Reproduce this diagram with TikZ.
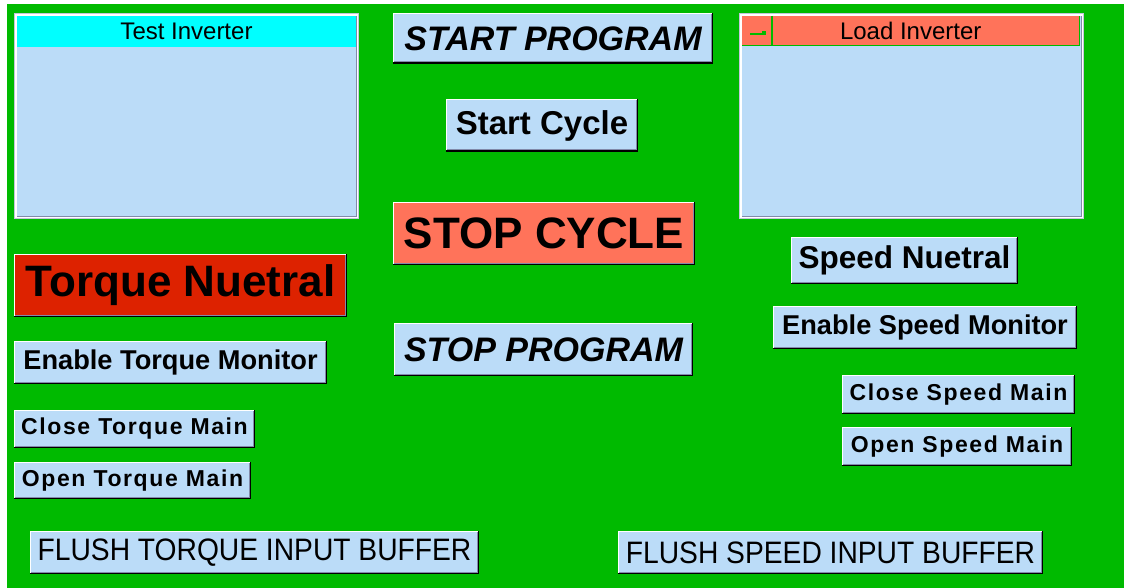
\documentclass[tikz,border=0pt]{standalone}
\usepackage{fontspec}
\setmainfont{Liberation Sans}
\newfontfamily\spacedsans[LetterSpace=7]{Liberation Sans}
\newfontfamily\narrowsans[FakeStretch=0.91]{Liberation Sans}

\definecolor{hmigreen}{RGB}{0,186,0}
\definecolor{panelblue}{RGB}{187,220,248}
\definecolor{salmon}{RGB}{255,115,90}
\definecolor{alarmred}{RGB}{221,34,0}
\definecolor{titlecyan}{RGB}{0,255,255}
\definecolor{bevelgray}{RGB}{130,138,170}
\definecolor{framegray}{RGB}{196,198,220}

\tikzset{
  uibtn/.style={inner sep=0pt, fill=panelblue, text=black},
  fbi/.style={font=\fontsize{34}{34}\selectfont\bfseries\itshape},
  fhuge/.style={font=\fontsize{44}{44}\selectfont\bfseries},
  fbig/.style={font=\fontsize{33}{33}\selectfont\bfseries},
  fmid/.style={font=\fontsize{31.5}{31.5}\selectfont\bfseries},
  fmon/.style={font=\fontsize{27.2}{27.2}\selectfont\bfseries},
  fmain/.style={font=\spacedsans\fontsize{23}{23}\selectfont\bfseries},
  fflush/.style={font=\narrowsans\fontsize{31}{31}\selectfont},
  ftitle/.style={font=\fontsize{24}{24}\selectfont},
  hilite/.style={white, line width=1.2pt},
  shade/.style={bevelgray, line width=1pt},
  shadow/.style={black, line width=1.5pt},
}

% rectangle node spanning two corners: name, x1, y1, x2, y2, options, label
\newcommand\spanbox[7]{%
  \pgfmathsetmacro\sbw{#4-#2}%
  \pgfmathsetmacro\sbh{#5-#3}%
  \pgfmathsetmacro\sbx{(#2+#4)/2}%
  \pgfmathsetmacro\sby{(#3+#5)/2}%
  \node[inner sep=0pt, outer sep=0pt, #6, minimum width=\sbw pt, minimum height=\sbh pt, anchor=center] (#1) at (\sbx,\sby) {#7};%
}

% raised push button: name, x1, y1, x2, y2, options, label
\newcommand\hmibutton[7]{%
  \spanbox{#1}{#2}{#3}{#4}{#5}{uibtn, #6}{#7}
  \draw[hilite] ([xshift=0.6pt]#1.south west) -- ([xshift=0.6pt,yshift=-0.6pt]#1.north west) -- ([yshift=-0.6pt]#1.north east);
  \draw[shade] ([xshift=1pt,yshift=2pt]#1.south west) -- ([xshift=-2pt,yshift=2pt]#1.south east) -- ([xshift=-2pt,yshift=-1pt]#1.north east);
  \draw[shadow] ([yshift=0.75pt]#1.south west) -- ([xshift=-0.75pt,yshift=0.75pt]#1.south east) -- ([xshift=-0.75pt]#1.north east);
}

\begin{document}
\begin{tikzpicture}[x=1pt, y=-1pt]
\useasboundingbox (0,0) rectangle (1124,588);
\fill[white] (0,0) rectangle (1124,588);
\fill[hmigreen] (7,4) rectangle (1124,588);

% Test Inverter panel
\fill[framegray] (14,13) rectangle (359,219);
\fill[white] (15,14) rectangle (358,218);
\fill[bevelgray] (17,16) rectangle (357,217);
\spanbox{testbody}{17}{16}{356}{216}{fill=panelblue}{}
\spanbox{testtitle}{17}{16}{356}{47}{fill=titlecyan, ftitle}{Test Inverter}

% Load Inverter panel
\fill[framegray] (739,13) rectangle (1084,219);
\fill[white] (740,14) rectangle (1083,218);
\fill[bevelgray] (742,16) rectangle (1082,217);
\spanbox{loadbody}{742}{16}{1081}{216}{fill=panelblue}{}
\spanbox{loadtitle}{742}{16}{1079.5}{45.5}{fill=salmon, ftitle}{Load Inverter}
\draw[hmigreen, line width=1.5pt] (loadtitle.south west) -- (loadtitle.south east) -- (loadtitle.north east);
\draw[hmigreen, line width=1.5pt] ([xshift=30pt]loadtitle.north west) -- ([xshift=30pt]loadtitle.south west);
\fill[hmigreen] (750,32.7) rectangle (766,35);
\fill[hmigreen] (761.5,30.7) rectangle (766,35);

% centre column
\hmibutton{startprog}{393}{13}{713}{64}{fbi}{START PROGRAM}
\hmibutton{startcycle}{446}{99}{638}{152}{fbig}{Start Cycle}
\hmibutton{stopcycle}{393}{202}{695}{265}{fhuge, fill=salmon}{STOP CYCLE}
\hmibutton{stopprog}{394}{323}{693}{376}{fbi}{STOP PROGRAM}

% torque side
\hmibutton{torqneutral}{14}{254}{347}{317}{fhuge, fill=alarmred}{Torque Nuetral}
\hmibutton{torqmon}{14}{341}{327}{384}{fmon}{Enable Torque Monitor}
\hmibutton{torqclose}{14}{410}{255}{448}{fmain}{Close Torque Main}
\hmibutton{torqopen}{14}{462}{251}{499}{fmain}{Open Torque Main}

% speed side
\hmibutton{speedneutral}{791}{237}{1018}{284}{fmid}{Speed Nuetral}
\hmibutton{speedmon}{773}{306}{1077}{349}{fmon}{Enable Speed Monitor}
\hmibutton{speedclose}{842}{375}{1075}{414}{fmain}{Close Speed Main}
\hmibutton{speedopen}{842}{427}{1072}{466}{fmain}{Open Speed Main}

% buffer flush buttons
\hmibutton{flushtorq}{30}{531}{479}{574}{fflush}{FLUSH TORQUE INPUT BUFFER}
\hmibutton{flushspeed}{618}{531}{1043}{574}{fflush}{FLUSH SPEED INPUT BUFFER}
\end{tikzpicture}
\end{document}
